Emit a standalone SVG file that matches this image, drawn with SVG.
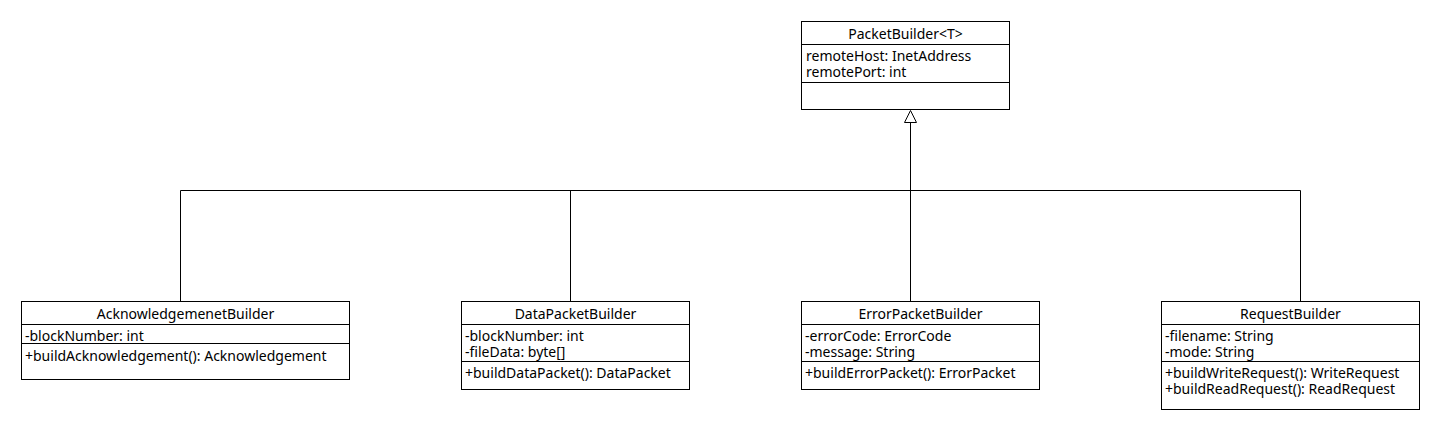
<svg xmlns="http://www.w3.org/2000/svg" width="1440" height="430" viewBox="0 0 1440 430">
<style>
.box{fill:#fff;stroke:#000;stroke-width:1}
.div{stroke:#000;stroke-width:1}
text{font-family:"Noto Sans","DejaVu Sans",sans-serif;font-size:14px;fill:#000}
.t{text-anchor:middle}
.c{fill:none;stroke:#000;stroke-width:1}
</style>
<g id="connectors">
<path class="c" d="M180.5,301 V190.5 H1300.5 V301"/>
<path class="c" d="M570.5,301 V190.5"/>
<path class="c" d="M910.5,301 V122.5"/>
<path d="M904.5,122.5 L910.5,110.5 L916.5,122.5 Z" fill="#fff" stroke="#000" stroke-width="1"/>
</g>
<g id="PacketBuilder">
<rect class="box" x="801.5" y="21.5" width="208" height="88"/>
<line class="div" x1="801.5" y1="44.5" x2="1009.5" y2="44.5"/>
<line class="div" x1="801.5" y1="82.5" x2="1009.5" y2="82.5"/>
<text class="t" x="905.5" y="38.5">PacketBuilder&lt;T&gt;</text>
<text x="806" y="60.5">remoteHost: InetAddress</text>
<text x="806" y="76.5">remotePort: int</text>
</g>
<g id="AcknowledgemenetBuilder">
<rect class="box" x="21.5" y="301.5" width="328" height="78"/>
<line class="div" x1="21.5" y1="324.5" x2="349.5" y2="324.5"/>
<line class="div" x1="21.5" y1="343.5" x2="349.5" y2="343.5"/>
<text class="t" x="185.5" y="318.5">AcknowledgemenetBuilder</text>
<text x="25" y="340.5">-blockNumber: int</text>
<text x="25" y="360.5">+buildAcknowledgement(): Acknowledgement</text>
</g>
<g id="DataPacketBuilder">
<rect class="box" x="461.5" y="301.5" width="228" height="88"/>
<line class="div" x1="461.5" y1="324.5" x2="689.5" y2="324.5"/>
<line class="div" x1="461.5" y1="361.5" x2="689.5" y2="361.5"/>
<text class="t" x="575.5" y="318.5">DataPacketBuilder</text>
<text x="465" y="340.5">-blockNumber: int</text>
<text x="465" y="356.5">-fileData: byte[]</text>
<text x="465" y="377.5">+buildDataPacket(): DataPacket</text>
</g>
<g id="ErrorPacketBuilder">
<rect class="box" x="801.5" y="301.5" width="238" height="88"/>
<line class="div" x1="801.5" y1="324.5" x2="1039.5" y2="324.5"/>
<line class="div" x1="801.5" y1="361.5" x2="1039.5" y2="361.5"/>
<text class="t" x="920.5" y="318.5">ErrorPacketBuilder</text>
<text x="805" y="340.5">-errorCode: ErrorCode</text>
<text x="805" y="356.5">-message: String</text>
<text x="805" y="377.5">+buildErrorPacket(): ErrorPacket</text>
</g>
<g id="RequestBuilder">
<rect class="box" x="1161.5" y="301.5" width="258" height="108"/>
<line class="div" x1="1161.5" y1="324.5" x2="1419.5" y2="324.5"/>
<line class="div" x1="1161.5" y1="361.5" x2="1419.5" y2="361.5"/>
<text class="t" x="1290.5" y="318.5">RequestBuilder</text>
<text x="1165" y="340.5">-filename: String</text>
<text x="1165" y="356.5">-mode: String</text>
<text x="1165" y="377.5">+buildWriteRequest(): WriteRequest</text>
<text x="1165" y="393.5">+buildReadRequest(): ReadRequest</text>
</g>
</svg>
